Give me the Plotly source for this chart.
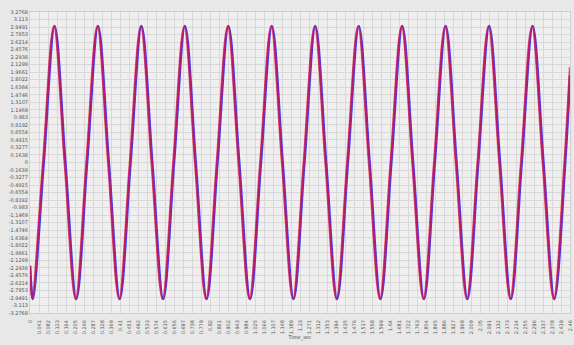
import plotly.graph_objects as go

# Key points (start, troughs, zero crossings, peaks, end)
t_red = [0, 0.010, 0.0595, 0.109, 0.158, 0.208, 0.257, 0.307, 0.356, 0.406, 0.455,
         0.505, 0.554, 0.604, 0.653, 0.703, 0.752, 0.802, 0.851, 0.901, 0.950,
         1.000, 1.049, 1.099, 1.148, 1.198, 1.247, 1.297, 1.346, 1.396, 1.445,
         1.495, 1.544, 1.594, 1.643, 1.693, 1.742, 1.792, 1.841, 1.891, 1.940,
         1.990, 2.039, 2.089, 2.138, 2.188, 2.237, 2.287, 2.336, 2.386, 2.435, 2.46]
v_red = [-2.25, -2.97, 0, 2.97, 0, -2.97, 0, 2.97, 0, -2.97, 0,
         2.97, 0, -2.97, 0, 2.97, 0, -2.97, 0, 2.97, 0,
         -2.97, 0, 2.97, 0, -2.97, 0, 2.97, 0, -2.97, 0,
         2.97, 0, -2.97, 0, 2.97, 0, -2.97, 0, 2.97, 0,
         -2.97, 0, 2.97, 0, -2.97, 0, 2.97, 0, -2.97, 0, 2.08]

t_blue = [0, 0.013, 0.0625, 0.112, 0.161, 0.211, 0.260, 0.310, 0.359, 0.409, 0.458,
          0.508, 0.557, 0.607, 0.656, 0.706, 0.755, 0.805, 0.854, 0.904, 0.953,
          1.003, 1.052, 1.102, 1.151, 1.201, 1.250, 1.300, 1.349, 1.399, 1.448,
          1.498, 1.547, 1.597, 1.646, 1.696, 1.745, 1.795, 1.844, 1.894, 1.943,
          1.993, 2.042, 2.092, 2.141, 2.191, 2.240, 2.290, 2.339, 2.389, 2.438, 2.46]
v_blue = [-2.25, -2.97, 0, 2.97, 0, -2.97, 0, 2.97, 0, -2.97, 0,
          2.97, 0, -2.97, 0, 2.97, 0, -2.97, 0, 2.97, 0,
          -2.97, 0, 2.97, 0, -2.97, 0, 2.97, 0, -2.97, 0,
          2.97, 0, -2.97, 0, 2.97, 0, -2.97, 0, 2.97, 0,
          -2.97, 0, 2.97, 0, -2.97, 0, 2.97, 0, -2.97, 0, 1.9]

y_tick_vals = [3.2768, 3.11296, 2.94912, 2.78528, 2.62144, 2.4576, 2.29376, 2.12992,
               1.96608, 1.80224, 1.6384, 1.47456, 1.31072, 1.14688, 0.98304, 0.8192,
               0.65536, 0.49152, 0.32768, 0.16384, 0,
               -0.16384, -0.32768, -0.49152, -0.65536, -0.8192, -0.98304, -1.14688,
               -1.31072, -1.47456, -1.6384, -1.80224, -1.96608, -2.12992, -2.29376,
               -2.4576, -2.62144, -2.78528, -2.94912, -3.11296, -3.2768]
y_tick_text = ["3.2768", "3.113", "2.9491", "2.7853", "2.6214", "2.4576", "2.2938", "2.1299",
               "1.9661", "1.8022", "1.6384", "1.4746", "1.3107", "1.1469", "0.983", "0.8192",
               "0.6554", "0.4915", "0.3277", "0.1638", "0",
               "-0.1638", "-0.3277", "-0.4915", "-0.6554", "-0.8192", "-0.983", "-1.1469",
               "-1.3107", "-1.4746", "-1.6384", "-1.8022", "-1.9661", "-2.1299", "-2.2938",
               "-2.4576", "-2.6214", "-2.7853", "-2.9491", "-3.113", "-3.2768"]

x_range = [0, 2.46]
x_dtick = 0.041

fig = go.Figure()
fig.add_trace(go.Scatter(x=t_blue, y=v_blue, mode="lines",
                         line=dict(color="#3c3cff", width=2.6, shape="spline", smoothing=1.0),
                         showlegend=False))
fig.add_trace(go.Scatter(x=t_red, y=v_red, mode="lines", opacity=0.7,
                         line=dict(color="#e8102a", width=2.4, shape="spline", smoothing=1.0),
                         showlegend=False))

fig.update_layout(
    width=574, height=345,
    margin=dict(l=30, r=4, t=12, b=32),
    paper_bgcolor="#e8e8e8",
    plot_bgcolor="#efefef",
    font=dict(family="DejaVu Sans", size=5, color="#555555"),
    xaxis=dict(range=x_range, tick0=0, dtick=x_dtick, tickangle=-90,
               showgrid=True, gridcolor="#d8d8d8", gridwidth=1,
               zeroline=False, showline=True, linecolor="#d0d0d0", mirror=True,
               ticks="outside", ticklen=4, tickcolor="rgba(0,0,0,0)",
               automargin=False, tickfont=dict(size=5, color="#555555"),
               title=dict(text="Time_sec", font=dict(size=5, color="#444444"), standoff=2)),
    yaxis=dict(range=[-3.2768, 3.2768], tickmode="array", tickvals=y_tick_vals,
               ticktext=y_tick_text, showgrid=True, gridcolor="#d8d8d8", gridwidth=1,
               zeroline=False, showline=True, linecolor="#d0d0d0", mirror=True,
               ticks="", automargin=False, tickfont=dict(size=5, color="#555555")),
)

fig.write_html("out.html")
